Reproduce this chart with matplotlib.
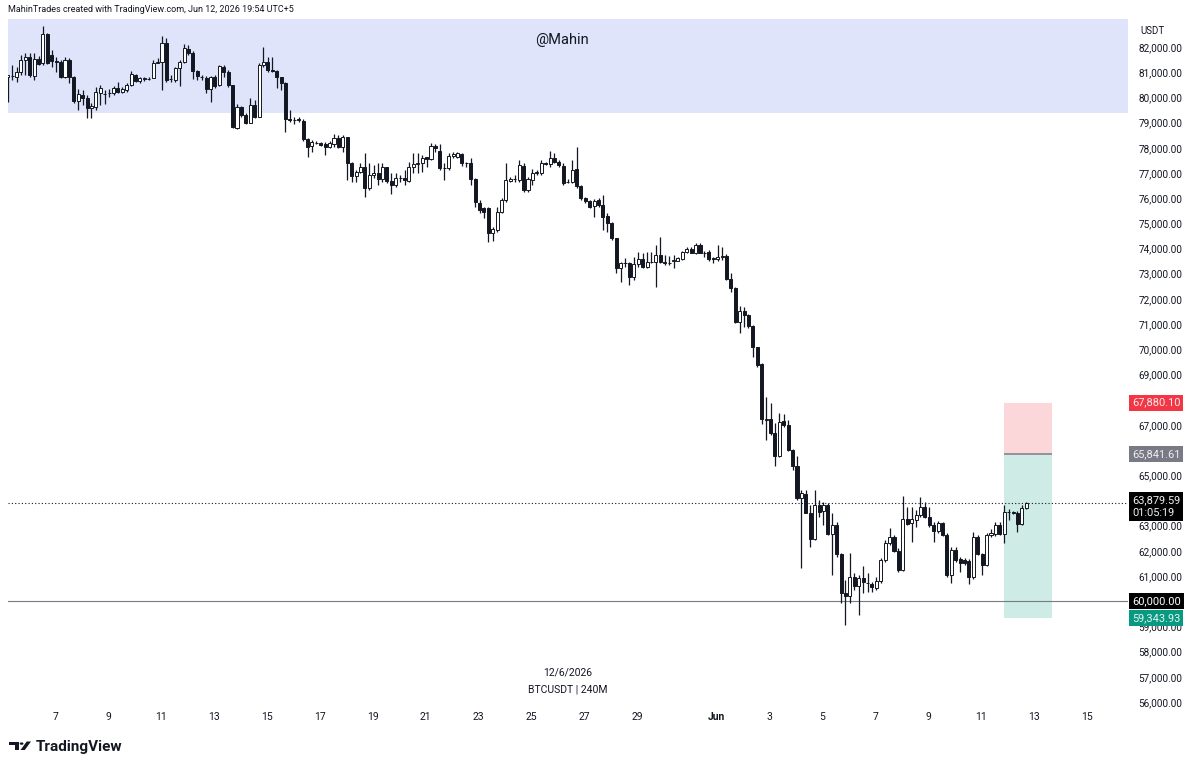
import numpy as np
import pandas as pd
import matplotlib
matplotlib.use("Agg")
import matplotlib.pyplot as plt
import matplotlib.dates as mdates
import matplotlib.transforms as mtrans
from matplotlib.patches import Polygon, Circle

# BTCUSDT 4h candles (last candle opens Jun 12 17:00)
opens = [80820, 80840, 80820, 81020, 81480, 81590, 80850, 81540, 81350, 82500,
         81680, 81430, 81410, 80800, 81480, 80820, 79870, 80100, 79960, 79570,
         79610, 80190, 80130, 80170, 80160, 80360, 80230, 80290, 80490, 80890,
         80650, 80740, 80730, 80780, 81380, 81420, 82170, 80720, 80690, 81150,
         81420, 81910, 81750, 81050, 80810, 80760, 80320, 80800, 80490, 81220,
         81020, 80490, 78770, 79610, 79300, 79000, 79700, 79230, 81290, 81420,
         81070, 81060, 80800, 80580, 79130, 79100, 79130, 79060, 78330, 78070,
         78200, 78200, 78150, 78020, 78150, 78370, 78040, 78410, 77410, 76880,
         77050, 77250, 76390, 76920, 76990, 76750, 77220, 76690, 76520, 76790,
         76790, 76690, 77250, 77360, 77410, 77620, 77540, 78070, 77890, 77180,
         77180, 77670, 77650, 77740, 77410, 77410, 76750, 75820, 75600, 75600,
         74600, 74740, 75460, 75930, 76690, 76750, 76720, 77280, 76320, 76720,
         76990, 76990, 77380, 77360, 77580, 77450, 77280, 76650, 76650, 77140,
         76480, 75990, 75900, 75690, 75930, 75730, 75290, 75030, 74400, 73210,
         73440, 73440, 72880, 73390, 73570, 73250, 73480, 73480, 73740, 73440,
         73440, 73520, 73520, 73570, 73880, 73970, 73840, 74140, 73840, 73880,
         73610, 73570, 73650, 73700, 72780, 72420, 71100, 71530, 71360, 70920,
         70080, 69420, 67190, 67220, 66690, 65760, 67170, 66990, 66000, 65370,
         64080, 64250, 63510, 62460, 63820, 63590, 63820, 62670, 63020, 61870,
         60310, 60210, 60970, 60600, 60910, 60730, 60680, 60510, 60810, 61630,
         62320, 62530, 62010, 61240, 63250, 63090, 63220, 63420, 63730, 63330,
         63020, 62800, 63120, 62630, 61040, 62030, 61660, 61630, 61610, 60950,
         62560, 61870, 61440, 62630, 62670, 63020, 62670, 63530, 63540, 63500,
         63060, 63700]
highs = [80900, 81290, 81220, 81680, 81780, 81750, 81780, 81640, 82830, 82540,
         81880, 81620, 81480, 81590, 81550, 80850, 80320, 80290, 80100, 79790,
         80430, 80490, 80290, 80320, 80450, 80620, 80430, 80560, 81060, 80930,
         80820, 80820, 80800, 81480, 81550, 82440, 82340, 80890, 81220, 81480,
         82110, 82080, 81820, 81090, 80890, 80850, 80850, 80890, 81290, 81290,
         81090, 80510, 79740, 79660, 79370, 79960, 79900, 81350, 82010, 81620,
         81590, 81090, 80820, 80620, 79500, 79230, 79210, 79140, 78370, 78310,
         78280, 78240, 78240, 78280, 78550, 78510, 78510, 78440, 77450, 77120,
         77380, 77780, 77380, 77320, 77380, 77380, 77250, 76990, 76990, 76920,
         77120, 77450, 77780, 77810, 77710, 77650, 78180, 78150, 78150, 77380,
         77780, 77850, 77850, 77780, 77450, 77580, 76790, 75930, 75640, 75640,
         74870, 75640, 75990, 77380, 76850, 76920, 77510, 77380, 76850, 77140,
         77120, 77510, 77450, 77890, 77780, 77510, 77380, 76750, 77510, 78040,
         76520, 76060, 75930, 75950, 75990, 76130, 75400, 75070, 74420, 73480,
         73610, 73480, 73680, 73880, 73810, 73880, 73880, 74140, 74470, 73740,
         73700, 73740, 73680, 73920, 74070, 74050, 74210, 74210, 73920, 73940,
         73680, 74140, 74050, 73780, 73040, 72490, 71720, 71690, 71400, 70960,
         70100, 69440, 68120, 67850, 67090, 67460, 67430, 67190, 66030, 65760,
         64400, 64410, 63820, 64410, 64020, 63950, 63880, 63490, 63160, 61900,
         60840, 61900, 61110, 61040, 61400, 61110, 60770, 60970, 61700, 62430,
         62890, 62630, 62100, 64180, 63750, 63750, 63620, 64120, 63950, 63750,
         63160, 63200, 63160, 62690, 62160, 62160, 61770, 61700, 61660, 62760,
         62630, 61930, 62690, 62850, 63160, 63160, 63820, 63650, 63600, 63600,
         63820, 63950]
lows = [79830, 80690, 80620, 80890, 80890, 80820, 80690, 81290, 81290, 81330,
        81220, 81020, 80760, 80760, 80560, 79760, 79500, 79700, 79170, 79170,
        79500, 79700, 79740, 80030, 80100, 80160, 80160, 80230, 80450, 80620,
        80580, 80660, 80690, 80760, 81350, 80290, 80620, 80620, 80620, 80450,
        81350, 81680, 80720, 80690, 80690, 80160, 79830, 80360, 80450, 80820,
        80430, 78770, 78730, 79230, 78940, 78970, 79170, 79210, 81220, 81020,
        81020, 80360, 80290, 78640, 79040, 78940, 79040, 78280, 77650, 77850,
        78150, 78070, 77710, 77980, 78040, 77980, 77850, 76720, 76650, 76650,
        76990, 76060, 76320, 76790, 76520, 76650, 76610, 76160, 76460, 76650,
        76520, 76650, 76990, 76990, 77050, 77250, 77510, 77850, 77120, 76720,
        77120, 77580, 77580, 77280, 77250, 76520, 75660, 75400, 75200, 74270,
        74310, 74670, 75400, 75860, 76650, 76650, 76650, 76260, 76260, 76520,
        76920, 76920, 77320, 77250, 77380, 77250, 76520, 76590, 76590, 76390,
        75930, 75790, 75600, 75260, 75660, 74740, 74670, 74340, 73020, 72680,
        73280, 72550, 72750, 73280, 73210, 73210, 73410, 72490, 73410, 73350,
        73350, 73210, 73520, 73540, 73810, 73810, 73780, 73810, 73680, 73520,
        73410, 73520, 73540, 72750, 72290, 71030, 70630, 70900, 70830, 69710,
        69310, 67030, 66400, 66600, 65370, 65740, 66930, 65980, 65210, 64020,
        61320, 63490, 62160, 62430, 63350, 63020, 62630, 61040, 61770, 59940,
        59050, 59910, 60440, 59450, 60310, 60380, 60380, 60440, 60730, 61570,
        62230, 61970, 61170, 61210, 63020, 62360, 62960, 63350, 63290, 62960,
        62360, 62720, 62590, 60970, 60710, 61570, 61170, 61440, 60680, 60870,
        61830, 61040, 61400, 62560, 62590, 62630, 62300, 63220, 63450, 62760,
        63020, 63650]
closes = [80875, 80860, 81020, 81480, 81590, 80890, 81510, 81330, 82500, 81350,
          81440, 81410, 80800, 81480, 80820, 79870, 80130, 79960, 79570, 79660,
          80230, 80360, 80150, 80190, 80360, 80230, 80320, 80490, 80930, 80660,
          80760, 80760, 80740, 81380, 81420, 82170, 80690, 80730, 81150, 81420,
          81950, 81750, 81060, 80850, 80800, 80320, 80800, 80450, 81250, 81020,
          80490, 78810, 79610, 79300, 79000, 79700, 79230, 81290, 81420, 81090,
          81060, 80800, 80580, 79130, 79110, 79090, 79110, 78330, 78040, 78240,
          78190, 78120, 78040, 78180, 78370, 78040, 78410, 77410, 76880, 77050,
          77250, 76390, 76920, 76990, 76750, 77250, 76690, 76520, 76790, 76780,
          76720, 77250, 77360, 77410, 77580, 77540, 78070, 77980, 77180, 77190,
          77670, 77740, 77780, 77410, 77400, 76750, 75860, 75530, 75460, 74600,
          74760, 75460, 75930, 76720, 76750, 76740, 77320, 76320, 76750, 77010,
          77050, 77410, 77370, 77580, 77450, 77320, 76610, 76640, 77120, 76480,
          75990, 75900, 75660, 75900, 75730, 75260, 75030, 74400, 73210, 73440,
          73430, 72880, 73390, 73570, 73250, 73480, 73470, 73740, 73480, 73450,
          73430, 73530, 73610, 73880, 73970, 73840, 74140, 73840, 73830, 73570,
          73600, 73680, 73700, 72780, 72420, 71100, 71530, 71360, 70920, 70080,
          69380, 67220, 67220, 66690, 65760, 67130, 66990, 66000, 65370, 64080,
          64280, 63510, 62460, 63820, 63550, 63820, 62670, 63020, 61870, 60310,
          60210, 60970, 60600, 60910, 60770, 60740, 60550, 60810, 61630, 62300,
          62530, 62010, 61240, 63250, 63060, 63250, 63420, 63730, 63330, 63020,
          62800, 63120, 62630, 61040, 62030, 61630, 61500, 61500, 60950, 62560,
          61870, 61440, 62630, 62690, 63020, 62670, 63530, 63540, 63510, 63060,
          63700, 63879.59]

last_candle = "2026-06-12 17:00"
tick_days = ["2026-05-07", "2026-05-09", "2026-05-11", "2026-05-13", "2026-05-15",
             "2026-05-17", "2026-05-19", "2026-05-21", "2026-05-23", "2026-05-25",
             "2026-05-27", "2026-05-29", "2026-06-01", "2026-06-03", "2026-06-05",
             "2026-06-07", "2026-06-09", "2026-06-11", "2026-06-13", "2026-06-15"]
tick_names = ["7", "9", "11", "13", "15", "17", "19", "21", "23", "25", "27", "29",
              "Jun", "3", "5", "7", "9", "11", "13", "15"]
# 60k and 64k sit fully under the price tags, so they are not printed
price_ticks = [v for v in range(56000, 83000, 1000) if v not in (60000, 64000)]

zone_low = 79380          # blue rectangle at the top
last_price = 63879.59
countdown = "01:05:19"
level_line = 60000
entry = 65841.61
stop = 67880.10
target = 59343.93
pos_start = "2026-06-11 21:00"
pos_end = "2026-06-13 16:00"

plt.rcParams['font.family'] = ['Roboto', 'DejaVu Sans']
ink = '#131722'

fig = plt.figure(figsize=(12, 7.7), dpi=100)
fig.patch.set_facecolor('white')
W, H = 1200, 770
ax = fig.add_axes([8 / W, 1 - 706 / H, 1120 / W, (706 - 19) / H])

o = np.array(opens, dtype=float)
h = np.array(highs, dtype=float)
l = np.array(lows, dtype=float)
c = np.array(closes, dtype=float)
times = pd.date_range(end=last_candle, periods=len(c), freq="4h")
x = mdates.date2num(times)

ax.axhspan(zone_low, 90000, color='#dfe4fb', lw=0, zorder=0)

up = c >= o
ax.vlines(x, l, h, color=ink, lw=0.9, zorder=2)
ax.bar(x, np.abs(c - o), bottom=np.minimum(o, c), width=0.115,
       color=np.where(up, 'white', ink), edgecolor=ink, lw=0.7, zorder=3)

# short position tool
p0, p1 = mdates.date2num(pd.Timestamp(pos_start)), mdates.date2num(pd.Timestamp(pos_end))
ax.fill_between([p0, p1], entry, stop, color='#fcd7da', lw=0, zorder=1)
ax.fill_between([p0, p1], target, entry, color='#ceebe6', lw=0, zorder=1)
ax.hlines(entry, p0, p1, color='#8a8d96', lw=1.3, zorder=1.5)

ax.axhline(level_line, color='#787b86', lw=0.8, zorder=1.5)
ax.axhline(last_price, color=ink, lw=0.8, ls=(0, (1, 2)), zorder=1.5)

ax.set_xlim(mdates.date2num(pd.Timestamp("2026-05-05 05:17")),
            mdates.date2num(pd.Timestamp("2026-06-16 13:16")))
ax.set_ylim(55840, 83110)

ax.set_xticks(mdates.date2num(pd.to_datetime(tick_days)))
ax.set_xticklabels(tick_names)
for lab in ax.get_xticklabels():
    if lab.get_text() == "Jun":
        lab.set_fontweight('bold')
ax.tick_params(axis='x', length=0, pad=4, labelsize=7.5, labelcolor=ink)

ax.yaxis.tick_right()
ax.set_yticks(price_ticks)
ax.set_yticklabels([f"{v:,.2f}" for v in price_ticks])
ax.tick_params(axis='y', length=0, pad=7.5, labelsize=7.2, labelcolor=ink)
for s in ax.spines.values():
    s.set_visible(False)

# price labels on the scale
tr = mtrans.blended_transform_factory(ax.transAxes, ax.transData)
def price_tag(val, color, fg='white'):
    ax.text(1.0035, val, f"{val:,.2f}", transform=tr, fontsize=7.9,
            color=fg, va='center', ha='left', zorder=10, clip_on=False,
            bbox=dict(boxstyle='square,pad=0.28', fc=color, ec='none'))

price_tag(stop, '#f23645', '#fde8ea')
price_tag(entry, '#787b86', '#eeeff2')
price_tag(level_line, 'black')
price_tag(target, '#089981', '#e6f5f2')
ax.annotate(f"{last_price:,.2f}\n{countdown}", xy=(1.0035, last_price), xycoords=tr,
            xytext=(0, 5.8), textcoords='offset points', fontsize=7.9, color='#f0f1f3',
            va='top', ha='left', linespacing=1.3, zorder=10, annotation_clip=False,
            bbox=dict(boxstyle='square,pad=0.28', fc='black', ec='none'))

fig.text(1140 / W, 1 - 31 / H, "USDT", fontsize=7, color=ink, va='center')
fig.text(8 / W, 1 - 10 / H, "MahinTrades created with TradingView.com, Jun 12, 2026 19:54 UTC+5",
         fontsize=6.5, color=ink, va='center')
fig.text(562 / W, 1 - 40 / H, "@Mahin", fontsize=10.5, color=ink, ha='center', va='center')
fig.text(568 / W, 1 - 672 / H, "12/6/2026", fontsize=7.5, color=ink, ha='center', va='center')
fig.text(568 / W, 1 - 690 / H, "BTCUSDT | 240M", fontsize=7.5, color=ink, ha='center', va='center')

# TradingView mark: bar + dot + slanted stroke
def px(pts):
    return [(a / W, 1 - b / H) for a, b in pts]
fig.add_artist(Polygon(px([(9, 741.5), (18.5, 741.5), (18.5, 750), (14.5, 750),
                           (14.5, 745), (9, 745)]), closed=True, fc=ink, ec='none',
                       transform=fig.transFigure))
fig.add_artist(Circle((21.6 / W, 1 - 743.6 / H), 1.9 / W, fc=ink, ec='none',
                      transform=fig.transFigure))
fig.add_artist(Polygon(px([(20.5, 750), (24.8, 750), (31, 741.5), (26.7, 741.5)]),
                       closed=True, fc=ink, ec='none', transform=fig.transFigure))
fig.text(36 / W, 1 - 746.5 / H, "TradingView", fontsize=11, fontweight='bold', color=ink,
         va='center')

fig.savefig("out.png", dpi=100, facecolor='white')
